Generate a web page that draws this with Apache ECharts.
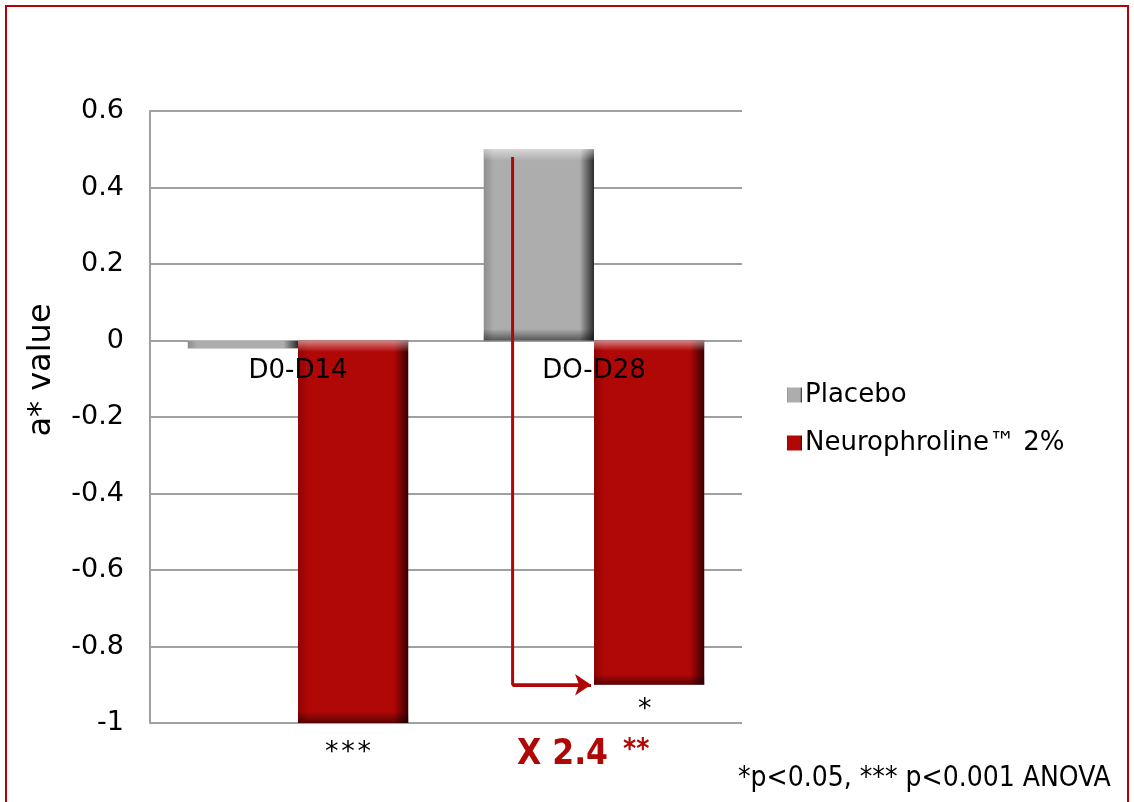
<!DOCTYPE html>
<html>
<head>
<meta charset="utf-8">
<script src="https://cdn.jsdelivr.net/npm/echarts@6/dist/echarts.min.js"></script>
<style>
  html, body { margin: 0; padding: 0; background: #fff; }
  #chart { width: 1134px; height: 802px; }
</style>
</head>
<body>
<div id="chart"></div>
<script>
// data
const categories = ['D0-D14', 'DO-D28']
const placebo = [-0.02, 0.5]
const neuro = [-1.0, -0.9]
const seriesNames = ['Placebo', 'Neurophroline™ 2%']
const yTicks = { min: -1, max: 0.6, step: 0.2 }
// arrow path on a 0..2 value axis laid over the categories
const arrowX = [1.225, 1.225, 1.47]
const arrowY = [0.48, -0.9, -0.9]

const dejavu = 'DejaVu Sans, Verdana, sans-serif'
const condensed = 'DejaVu Sans Condensed, DejaVu Sans, sans-serif'

function hGrad(edgeL, base, edgeR) {
    return new echarts.graphic.LinearGradient(0, 0, 1, 0, [
        { offset: 0, color: edgeL },
        { offset: 0.09, color: base },
        { offset: 0.87, color: base },
        { offset: 1, color: edgeR },
    ])
}
function vGrad(topPart) {
    return new echarts.graphic.LinearGradient(0, 0, 0, 1, [
        { offset: 0, color: 'rgba(255,255,255,0.5)' },
        { offset: topPart, color: 'rgba(255,255,255,0)' },
        { offset: 1 - topPart, color: 'rgba(0,0,0,0)' },
        { offset: 1, color: 'rgba(0,0,0,0.5)' },
    ])
}

const grayFill = hGrad('#8e8e8e', '#adadad', '#2b2b2b')
const redFill = hGrad('#8e0404', '#b00707', '#3a0000')

let myChart = echarts.init(document.getElementById('chart'))
let barCommon = { type: 'bar', barGap: '0%', barCategoryGap: '25.5%' }

let option = {
    animation: false,
    grid: { left: 150, right: 392, top: 111, bottom: 79 },
    legend: {
        data: seriesNames,
        orient: 'vertical',
        left: 782,
        top: 377,
        itemWidth: 15,
        itemHeight: 15,
        itemGap: 22,
        icon: 'rect',
        textStyle: { fontFamily: dejavu, fontSize: 26, color: '#000', padding: [0, 0, 0, -2] },
    },
    xAxis: [
        {
            type: 'category',
            data: categories,
            axisLine: { show: false },
            axisTick: { show: false },
            axisLabel: { show: false },
        },
        { type: 'category', data: categories, show: false },
        { type: 'value', min: 0, max: 2, show: false },
    ],
    yAxis: {
        type: 'value',
        min: yTicks.min,
        max: yTicks.max,
        interval: yTicks.step,
        axisLine: { show: true, onZero: false, lineStyle: { color: '#a0a0a0', width: 2 } },
        axisTick: { show: false },
        axisLabel: {
            margin: 26,
            fontFamily: dejavu,
            fontSize: 27,
            color: '#000',
            formatter: (v) => String(parseFloat(v.toFixed(1))),
        },
        splitLine: { lineStyle: { color: '#a0a0a0', width: 2 } },
    },
    series: [
        Object.assign({}, barCommon, {
            name: seriesNames[0],
            data: placebo,
            itemStyle: { color: grayFill },
        }),
        Object.assign({}, barCommon, {
            name: seriesNames[1],
            data: neuro,
            itemStyle: { color: redFill },
        }),
        Object.assign({}, barCommon, {
            name: 'bevel-a',
            xAxisIndex: 1,
            data: placebo,
            silent: true,
            itemStyle: { color: vGrad(0.06) },
        }),
        Object.assign({}, barCommon, {
            name: 'bevel-b',
            xAxisIndex: 1,
            data: neuro,
            silent: true,
            itemStyle: { color: vGrad(0.03) },
        }),
        // category labels sitting on the zero line
        {
            type: 'scatter',
            name: 'cat-labels',
            data: categories.map((c) => [c, 0]),
            symbolSize: 0,
            silent: true,
            z: 10,
            itemStyle: { opacity: 1 },
            label: {
                show: true,
                position: 'bottom',
                distance: 18,
                formatter: (p) => p.value[0],
                fontFamily: dejavu,
                fontSize: 26,
                color: '#000',
                opacity: 1,
            },
        },
        {
            type: 'line',
            xAxisIndex: 2,
            data: arrowX.map((x, i) => [x, arrowY[i]]),
            symbol: 'none',
            silent: true,
            z: 6,
            lineStyle: { color: '#b00707', width: 3 },
            markLine: {
                silent: true,
                symbol: ['none', 'arrow'],
                symbolSize: 16,
                label: { show: false },
                lineStyle: { color: '#b00707', width: 3, type: 'solid' },
                data: [[{ coord: [arrowX[1], arrowY[1]] }, { coord: [arrowX[2] + 0.02, arrowY[2]] }]],
            },
        },
    ],
    graphic: [
        {
            type: 'rect',
            shape: { x: 6, y: 6, width: 1122, height: 820 },
            style: { fill: 'none', stroke: '#b80000', lineWidth: 2 },
            silent: true,
        },
        {
            type: 'text', x: 42, y: 370, rotation: Math.PI / 2,
            style: { text: 'a* value', font: '32px ' + dejavu, fill: '#000', align: 'center', verticalAlign: 'middle' },
        },
        {
            type: 'text', left: 325, top: 739,
            style: { text: '*\u200a*\u200a*', font: '27px ' + dejavu, fill: '#000' },
        },
        {
            type: 'text', left: 638, top: 696,
            style: { text: '*', font: '27px ' + dejavu, fill: '#000' },
        },
        {
            type: 'text', left: 517, top: 737,
            style: { text: 'X 2.4', font: 'bold 35px ' + condensed, fill: '#b00707' },
        },
        {
            type: 'text', left: 623, top: 737,
            style: { text: '**', font: 'bold 28px ' + condensed, fill: '#b00707' },
        },
        {
            type: 'text', left: 738, top: 765,
            style: { text: '*p<0.05, *** p<0.001 ANOVA', font: '28px ' + condensed, fill: '#000' },
        },
    ],
}

myChart.setOption(option)
</script>
</body>
</html>
